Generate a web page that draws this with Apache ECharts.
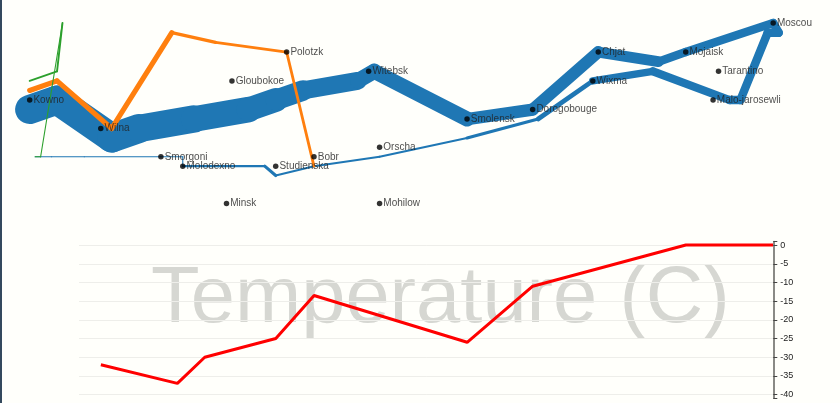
<!DOCTYPE html>
<html>
<head>
<meta charset="utf-8">
<script src="https://cdn.jsdelivr.net/npm/echarts@6/dist/echarts.min.js"></script>
<style>
html,body{margin:0;padding:0;background:#fffffb;overflow:hidden}
#c{position:absolute;left:0;top:0;width:840px;height:403px}
#edge{position:absolute;left:0;top:0;width:2px;height:403px;background:#34495e}
</style>
</head>
<body>
<div id="c"></div>
<div id="edge"></div>
<script>
// Main army: longitude, latitude, survivors at each stop
const blueLon = [24.0,24.5,25.5,26.0,27.0,28.0,28.5,29.0,30.0,30.3,32.0,33.2,34.4,35.5,36.0,37.6,37.7,37.5,37.0,36.8,35.4,34.3,33.3,32.0,30.4,29.2,28.5,28.3,27.5,26.8,26.8,26.4,25.0,24.4,24.2,24.1];
const blueLat = [54.9,55.0,54.6,54.7,54.8,54.9,55.0,55.1,55.2,55.3,54.8,54.9,55.5,55.4,55.5,55.8,55.7,55.7,55.0,55.0,55.3,55.2,54.8,54.6,54.4,54.3,54.2,54.3,54.3,54.3,54.4,54.4,54.4,54.4,54.4,54.4];
const blueSurvivors = [340000,340000,340000,320000,300000,280000,240000,210000,180000,175000,145000,140000,127100,100000,100000,100000,100000,98000,97000,96000,87000,55000,37000,24000,24000,24000,36000,24000,24000,12000,14000,14000,8000,8000,4000,4000];
// Second group
const orangeLon = [24.0,24.5,25.5,26.6,27.4,28.7,29.2];
const orangeLat = [55.1,55.2,54.7,55.7,55.6,55.5,54.3];
const orangeSurvivors = [60000,60000,60000,40000,33000,33000,30000];
// Third group
const greenLon = [24.0,24.5,24.6,24.2,24.1];
const greenLat = [55.2,55.3,55.8,54.4,54.4];
const greenSurvivors = [22000,22000,6000,6000,6000];
// Cities
const cityNames = ['Kowno','Wilna','Smorgoni','Molodexno','Gloubokoe','Minsk','Studienska','Polotzk','Bobr','Witebsk','Orscha','Mohilow','Smolensk','Dorogobouge','Wixma','Chjat','Mojaisk','Tarantino','Malo-jarosewli','Moscou'];
const cityLon = [24.0,25.3,26.4,26.8,27.7,27.6,28.5,28.7,29.2,30.2,30.4,30.4,32.0,33.2,34.3,34.4,36.0,36.6,36.5,37.6];
const cityLat = [55.0,54.7,54.4,54.3,55.2,53.9,54.3,55.5,54.4,55.3,54.5,53.9,54.8,54.9,55.2,55.5,55.5,55.3,55.0,55.8];
// Temperature
const tempLon = [25.3,26.7,27.2,28.5,29.2,32.0,33.2,36.0,37.6];
const tempValues = [-32,-37,-30,-25,-13.5,-26,-11,0,0];
const tempTicks = [0,-5,-10,-15,-20,-25,-30,-35,-40];

const pxPerDeg = 54.67, lonAtZero = 23.457;
const pxPerUnit = pxPerDeg * 180 / Math.PI;
const merc = lat => Math.log(Math.tan(Math.PI / 4 + lat * Math.PI / 360));
const mapHeight = 235, kownoY = 100;
const peoplePerPx = 11700;

function pathSeries(lon, lat, size, color) {
  const out = [];
  for (let i = 0; i < lon.length - 1; i++) {
    out.push({
      type: 'line', xAxisIndex: 0, yAxisIndex: 0, silent: true, symbol: 'none', clip: false, z: 3,
      lineStyle: { color, width: Math.max(1.1, size[i] / peoplePerPx), cap: 'round', join: 'round' },
      data: [[lon[i], merc(lat[i])], [lon[i + 1], merc(lat[i + 1])]]
    });
  }
  return out;
}

const chart = echarts.init(document.getElementById('c'), null, { renderer: 'canvas' });
chart.setOption({
  animation: false,
  backgroundColor: '#fffffb',
  title: {
    text: 'Temperature (C)', left: 151, top: 260, z: 0, padding: 0,
    textStyle: { fontFamily: 'Liberation Sans', fontSize: 79.5, fontWeight: 'normal', color: '#d6d7d2' }
  },
  grid: [
    { left: 0, top: 0, width: 840, height: mapHeight },
    { left: 79, top: 241.7, width: 694.3, height: 156.3 }
  ],
  xAxis: [
    { gridIndex: 0, type: 'value', show: false, min: lonAtZero, max: lonAtZero + 840 / pxPerDeg },
    { gridIndex: 1, type: 'value', show: false, min: 37.6 - 694.3 / pxPerDeg, max: 37.6 }
  ],
  yAxis: [
    { gridIndex: 0, type: 'value', show: false,
      min: merc(55) - (mapHeight - kownoY) / pxPerUnit, max: merc(55) + kownoY / pxPerUnit },
    { gridIndex: 1, type: 'value', position: 'right', min: -40.9, max: 0.9, z: 4,
      axisLine: { show: true, lineStyle: { color: '#8a8a86', width: 2 } },
      axisTick: { show: true, length: 4, inside: false, lineStyle: { color: '#444', width: 1 },
        customValues: [0.9].concat(tempTicks, [-40.9]) },
      axisLabel: { show: true, customValues: tempTicks, margin: 7, fontFamily: 'Liberation Sans', fontSize: 9, color: '#222' },
      splitLine: { show: false } },
    { gridIndex: 1, type: 'value', position: 'right', min: -40.9, max: 0.9, z: 1,
      axisLine: { show: false }, axisLabel: { show: false },
      axisTick: { show: false, customValues: tempTicks },
      splitLine: { show: true, lineStyle: { color: '#eeeeea', width: 1 } } }
  ],
  series: [
    ...pathSeries(blueLon, blueLat, blueSurvivors, '#1f77b4'),
    ...pathSeries(orangeLon, orangeLat, orangeSurvivors, '#ff7f0e'),
    ...pathSeries(greenLon, greenLat, greenSurvivors, '#2ca02c'),
    {
      type: 'scatter', xAxisIndex: 0, yAxisIndex: 0, silent: true, z: 5, clip: false,
      symbolSize: 5.5, itemStyle: { color: '#000' },
      label: {
        show: true, position: 'right', distance: 1,
        fontFamily: 'Liberation Sans', fontSize: 10, color: '#222',
        formatter: p => cityNames[p.dataIndex]
      },
      data: cityLon.map((x, i) => [x, merc(cityLat[i])])
    },
    {
      type: 'line', xAxisIndex: 1, yAxisIndex: 1, silent: true, symbol: 'none', z: 3,
      lineStyle: { color: '#ff0000', width: 3 },
      data: tempLon.map((x, i) => [x, tempValues[i]])
    }
  ]
});
</script>
</body>
</html>
